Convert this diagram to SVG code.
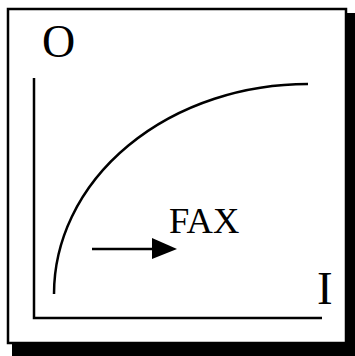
<svg xmlns="http://www.w3.org/2000/svg" width="355" height="356" viewBox="0 0 355 356">
<style>
.ln{fill:none;stroke:#000;stroke-width:2.5}
.t{font-family:"Liberation Serif","Times New Roman",serif;fill:#000}
</style>
<rect x="0" y="0" width="355" height="356" fill="#fff"/>
<g id="frame">
<rect x="12" y="13" width="345" height="345" fill="#000"/>
<rect x="8" y="9" width="338" height="334" fill="#fff" stroke="#000" stroke-width="2.5"/>
</g>
<g id="connectors">
<path class="ln" d="M34,78 V318 H322"/>
<path class="ln" d="M54,294 A254,210 0 0 1 308,84"/>
<line class="ln" x1="92" y1="249" x2="154" y2="249"/>
<polygon points="152,238 177,249 152,259" fill="#000"/>
</g>
<g id="labels">
<text class="t" x="42" y="57" font-size="46">O</text>
<text class="t" x="317" y="304" font-size="47">I</text>
<text class="t" x="169" y="233" font-size="36.5">FAX</text>
</g>
</svg>
